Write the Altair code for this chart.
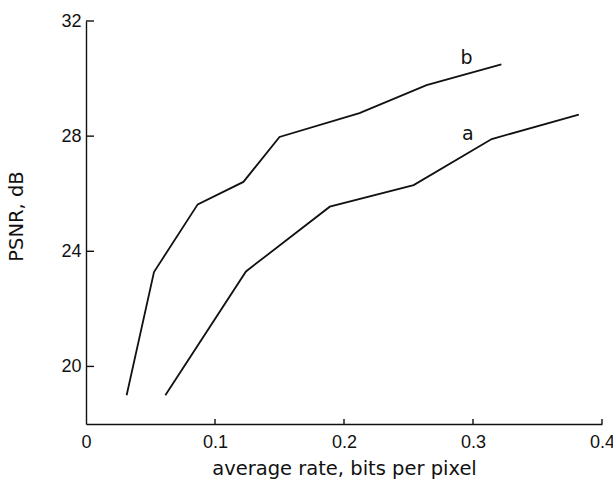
import altair as alt
import pandas as pd

# Curve a
rate_a = [0.0615, 0.124, 0.189, 0.254, 0.3145, 0.382]
psnr_a = [19.0, 23.3, 25.55, 26.3, 27.9, 28.75]
# Curve b
rate_b = [0.0315, 0.0527, 0.0866, 0.122, 0.150, 0.212, 0.264, 0.322]
psnr_b = [19.0, 23.28, 25.63, 26.41, 27.97, 28.8, 29.77, 30.49]

# Curve labels
label_text = ["b", "a"]
label_rate = [0.295, 0.296]
label_psnr = [30.70, 28.09]

x_ticks = [0, 0.1, 0.2, 0.3, 0.4]
y_ticks = [20, 24, 28, 32]

W, H = 516, 403
FONT = "DejaVu Sans"
NUMFONT = "Liberation Sans"
INK = "#111111"

df = pd.DataFrame(
    {"rate": rate_a + rate_b,
     "psnr": psnr_a + psnr_b,
     "curve": ["a"] * len(rate_a) + ["b"] * len(rate_b),
     "order": list(range(len(rate_a))) + list(range(len(rate_b)))}
)
lab = pd.DataFrame({"t": label_text, "rate": label_rate, "psnr": label_psnr})
xt = pd.DataFrame({"v": x_ticks[1:]})
yt = pd.DataFrame({"v": y_ticks})

xscale = alt.Scale(domain=[0, 0.4], nice=False, zero=False)
yscale = alt.Scale(domain=[18, 32], nice=False, zero=False)

xaxis = alt.Axis(
    values=x_ticks, format="~g", ticks=False, grid=False,
    domainColor=INK, domainWidth=1.4,
    labelFont=NUMFONT, labelFontSize=18, labelColor=INK, labelPadding=9,
    labelFlush=False,
    title="average rate, bits per pixel",
    titleFont=FONT, titleFontSize=19.5, titleFontWeight="normal", titleColor=INK,
    titleY=50, titleBaseline="alphabetic",
)
yaxis = alt.Axis(
    values=y_ticks, ticks=False, grid=False,
    domainColor=INK, domainWidth=1.4,
    labelFont=NUMFONT, labelFontSize=18, labelColor=INK, labelPadding=5,
    labelFlush=False,
    title="PSNR, dB",
    titleFont=FONT, titleFontSize=19.5, titleFontWeight="normal", titleColor=INK,
    titleX=-70, titleY=195, titleAngle=270, titleAlign="center",
    titleBaseline="middle",
)

lines = alt.Chart(df).mark_line(color=INK, strokeWidth=1.8).encode(
    x=alt.X("rate:Q", scale=xscale, axis=xaxis),
    y=alt.Y("psnr:Q", scale=yscale, axis=yaxis),
    detail="curve:N",
    order="order:Q",
)

labels = alt.Chart(lab).mark_text(
    font=FONT, fontSize=19, color=INK, align="center", baseline="middle"
).encode(
    x=alt.X("rate:Q", scale=xscale),
    y=alt.Y("psnr:Q", scale=yscale),
    text="t:N",
)

xtick_marks = alt.Chart(xt).mark_rule(color=INK, strokeWidth=1.4).encode(
    x=alt.X("v:Q", scale=xscale),
    y=alt.value(H),
    y2=alt.value(H - 5),
)
ytick_marks = alt.Chart(yt).mark_rule(color=INK, strokeWidth=1.4).encode(
    y=alt.Y("v:Q", scale=yscale),
    x=alt.value(0),
    x2=alt.value(8),
)

chart = alt.layer(lines, labels, xtick_marks, ytick_marks).properties(
    width=W, height=H,
    autosize=alt.AutoSizeParams(type="none"),
    padding={"left": 86, "top": 21, "right": 11, "bottom": 58},
    background="white",
).configure_view(stroke=None)

chart.save("out.html", embed_options={"renderer": "svg", "actions": False})
